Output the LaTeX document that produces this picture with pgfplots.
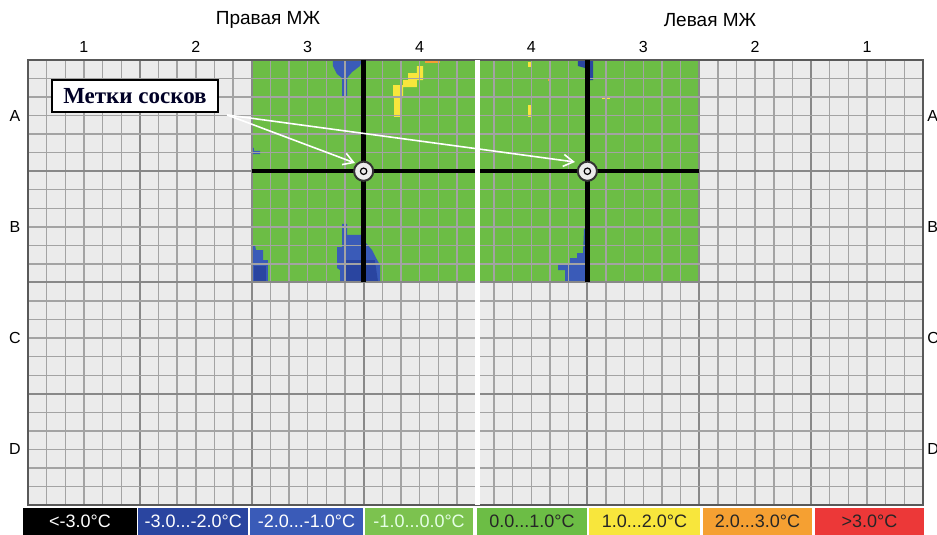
\documentclass[border=0pt]{standalone}
\usepackage{fontspec}
\setmainfont{Liberation Sans}
\newfontfamily\serifb{Liberation Serif}
\usepackage{pgfplots}
\pgfplotsset{compat=1.18}
\usetikzlibrary{arrows.meta}
\definecolor{bggrey}{HTML}{EBEBEB}
\definecolor{minorg}{HTML}{A3A3A3}
\definecolor{majorg}{HTML}{888888}
\definecolor{hgreen}{HTML}{6CBD45}
\definecolor{lgreen}{HTML}{7CC24F}
\definecolor{blueA}{HTML}{2A45A0}
\definecolor{blueB}{HTML}{3A5BB8}
\definecolor{yel}{HTML}{F8E63C}
\definecolor{ora}{HTML}{F5A032}
\definecolor{redc}{HTML}{EC3838}
\begin{document}
\begin{tikzpicture}
\begin{axis}[
  set layers,
  scale only axis, width=447.5pt, height=222.5pt,
  xmin=0, xmax=8, ymin=0, ymax=4, y dir=reverse,
  xtick={0,1,...,8}, ytick={0,1,...,4},
  minor x tick num=5, minor y tick num=5,
  xticklabels={}, yticklabels={},
  tick label style={text opacity=0},
  major tick length=0pt, minor tick length=0pt,
  grid=both,
  major grid style={draw=majorg, line width=1pt},
  minor grid style={draw=minorg, line width=0.7pt},
  axis line style={draw=black!65, line width=0.9pt},
  clip=false,
]
% background and heat map
\addplot[on layer=axis background, fill=bggrey, draw=none] coordinates {(0,0) (8,0) (8,4) (0,4)} -- cycle;
\addplot[on layer=axis background, fill=hgreen, draw=none] coordinates {(2,0) (6,0) (6,2) (2,2)} -- cycle;
% right breast, top blue
\addplot[on layer=axis background, fill=blueB, draw=none] coordinates {(2.726,0) (2.986,0) (2.968,0.054) (2.897,0.108) (2.852,0.162) (2.852,0.342) (2.807,0.342) (2.807,0.162) (2.762,0.126) (2.726,0.054)} -- cycle;
% right breast, yellow
\addplot[on layer=axis background, fill=yel, draw=none] coordinates {(3.477,0.054) (3.531,0.054) (3.531,0.180) (3.477,0.180) (3.477,0.243) (3.352,0.243) (3.352,0.342) (3.325,0.342) (3.325,0.512) (3.272,0.512) (3.272,0.342) (3.263,0.342) (3.263,0.225) (3.352,0.225) (3.352,0.180) (3.397,0.180) (3.397,0.117) (3.477,0.117)} -- cycle;
\addplot[on layer=axis background, fill=ora, draw=none] coordinates {(3.55,0) (3.68,0) (3.68,0.025) (3.55,0.025)} -- cycle;
% right breast, left edge blue
\addplot[on layer=axis background, fill=blueB, draw=none] coordinates {(2,0.791) (2.020,0.791) (2.020,0.818) (2.074,0.818) (2.074,0.845) (2,0.845)} -- cycle;
\addplot[on layer=axis background, fill=blueB, draw=none] coordinates {(2,1.663) (2.029,1.663) (2.038,1.708) (2.101,1.708) (2.101,1.798) (2.145,1.798) (2.145,2) (2,2)} -- cycle;
\addplot[on layer=axis background, fill=blueA, draw=none] coordinates {(2.02,1.85) (2.13,1.85) (2.13,2) (2.02,2)} -- cycle;
% right breast, bottom blue near nipple line
\addplot[on layer=axis background, fill=blueB, draw=none] coordinates {(2.807,1.474) (2.852,1.474) (2.852,1.573) (2.986,1.573) (3.021,1.645) (3.075,1.708) (3.111,1.780) (3.147,1.843) (3.147,2) (2.789,2) (2.789,1.888) (2.762,1.870) (2.762,1.681) (2.807,1.681)} -- cycle;
\addplot[on layer=axis background, fill=blueA, draw=none] coordinates {(2.83,1.80) (3.10,1.80) (3.13,2) (2.83,2)} -- cycle;
% left breast, top blue
\addplot[on layer=axis background, fill=blueA, draw=none] coordinates {(4.916,0) (5.051,0) (5.051,0.180) (5.024,0.180) (5.006,0.315) (4.979,0.315) (4.979,0.072) (4.916,0.054)} -- cycle;
% left breast, bottom blue
\addplot[on layer=axis background, fill=blueB, draw=none] coordinates {(4.970,1.519) (5.006,1.519) (5.024,2) (4.800,2) (4.800,1.888) (4.738,1.888) (4.738,1.825) (4.845,1.825) (4.845,1.780) (4.908,1.780) (4.908,1.735) (4.961,1.735)} -- cycle;
% left breast, small warm spots
\addplot[on layer=axis background, fill=yel, draw=none] coordinates {(4.470,0.018) (4.505,0.018) (4.505,0.063) (4.470,0.063)} -- cycle;
\addplot[on layer=axis background, fill=yel, draw=none] coordinates {(4.470,0.405) (4.505,0.405) (4.505,0.512) (4.470,0.512)} -- cycle;
\addplot[on layer=axis background, fill=yel, draw=none] coordinates {(5.131,0.324) (5.202,0.324) (5.202,0.351) (5.131,0.351)} -- cycle;
\addplot[on layer=axis background, fill=ora, draw=none] coordinates {(4.648,0.162) (4.666,0.162) (4.666,0.189) (4.648,0.189)} -- cycle;
% nipple cross lines
\addplot[black, line width=2.2pt] coordinates {(2,1) (6,1)};
\addplot[black, line width=2.2pt] coordinates {(3,0) (3,2)};
\addplot[black, line width=2.2pt] coordinates {(5,0) (5,2)};
% midline
\addplot[white, line width=2.5pt] coordinates {(4.02,0) (4.02,4)};
% arrows
\draw[white, line width=0.8pt, -{Straight Barb[length=5pt,width=6pt]}] (axis cs:1.78,0.494) -- (axis cs:2.923,0.926);
\draw[white, line width=0.8pt, -{Straight Barb[length=5pt,width=6pt]}] (axis cs:1.78,0.494) -- (axis cs:4.889,0.917);
% nipple marks
\addplot[only marks, mark=*, mark size=4.8pt, mark options={fill=gray!15, draw=black!80, line width=1pt}] coordinates {(3,1) (5,1)};
\addplot[only marks, mark=o, mark size=1.6pt, mark options={draw=black, line width=0.6pt}] coordinates {(3,1) (5,1)};
% label box
\node[draw=black, line width=0.9pt, fill=white, minimum width=83pt, minimum height=16pt, inner sep=0pt,
      font=\serifb\bfseries\fontsize{11.5}{12}\selectfont, text=black!85!blue] at (axis cs:0.956,0.324) {Метки сосков};
% column labels
\node[font=\fontsize{8}{9}\selectfont] at (axis cs:0.5,-0.117) {1};
\node[font=\fontsize{8}{9}\selectfont] at (axis cs:1.5,-0.117) {2};
\node[font=\fontsize{8}{9}\selectfont] at (axis cs:2.5,-0.117) {3};
\node[font=\fontsize{8}{9}\selectfont] at (axis cs:3.5,-0.117) {4};
\node[font=\fontsize{8}{9}\selectfont] at (axis cs:4.5,-0.117) {4};
\node[font=\fontsize{8}{9}\selectfont] at (axis cs:5.5,-0.117) {3};
\node[font=\fontsize{8}{9}\selectfont] at (axis cs:6.5,-0.117) {2};
\node[font=\fontsize{8}{9}\selectfont] at (axis cs:7.5,-0.117) {1};
\node[font=\fontsize{9.5}{11}\selectfont] at (axis cs:2.145,-0.36) {Правая МЖ};
\node[font=\fontsize{9.5}{11}\selectfont] at (axis cs:6.096,-0.36) {Левая МЖ};
% row labels
\node[font=\fontsize{8}{9}\selectfont] at (axis cs:-0.116,0.5) {A};
\node[font=\fontsize{8}{9}\selectfont] at (axis cs:-0.116,1.5) {B};
\node[font=\fontsize{8}{9}\selectfont] at (axis cs:-0.116,2.5) {C};
\node[font=\fontsize{8}{9}\selectfont] at (axis cs:-0.116,3.5) {D};
\node[anchor=west, inner sep=0pt, font=\fontsize{8}{9}\selectfont] at (axis cs:8.036,0.5) {A};
\node[anchor=west, inner sep=0pt, font=\fontsize{8}{9}\selectfont] at (axis cs:8.036,1.5) {B};
\node[anchor=west, inner sep=0pt, font=\fontsize{8}{9}\selectfont] at (axis cs:8.036,2.5) {C};
\node[anchor=west, inner sep=0pt, font=\fontsize{8}{9}\selectfont] at (axis cs:8.036,3.5) {D};
% colour scale
\fill[black] (axis cs:-0.045,4.027) rectangle (axis cs:0.975,4.32);
\fill[blueA] (axis cs:0.985,4.027) rectangle (axis cs:1.967,4.32);
\fill[blueB] (axis cs:1.985,4.027) rectangle (axis cs:2.994,4.32);
\fill[lgreen] (axis cs:3.012,4.027) rectangle (axis cs:3.98,4.32);
\fill[hgreen] (axis cs:4.013,4.027) rectangle (axis cs:4.997,4.32);
\fill[yel] (axis cs:5.015,4.027) rectangle (axis cs:6.007,4.32);
\fill[ora] (axis cs:6.034,4.027) rectangle (axis cs:7.008,4.32);
\fill[redc] (axis cs:7.035,4.027) rectangle (axis cs:8.009,4.32);
\node[text=white, font=\fontsize{9}{10}\selectfont] at (axis cs:0.465,4.144) {<-3.0°C};
\node[text=white, font=\fontsize{9}{10}\selectfont] at (axis cs:1.476,4.144) {-3.0...-2.0°C};
\node[text=white, font=\fontsize{9}{10}\selectfont] at (axis cs:2.49,4.144) {-2.0...-1.0°C};
\node[text=white!90!green, font=\fontsize{9}{10}\selectfont] at (axis cs:3.496,4.144) {-1.0...0.0°C};
\node[text=black!85, font=\fontsize{9}{10}\selectfont] at (axis cs:4.505,4.144) {0.0...1.0°C};
\node[text=black!85, font=\fontsize{9}{10}\selectfont] at (axis cs:5.511,4.144) {1.0...2.0°C};
\node[text=black!85, font=\fontsize{9}{10}\selectfont] at (axis cs:6.521,4.144) {2.0...3.0°C};
\node[text=black!85, font=\fontsize{9}{10}\selectfont] at (axis cs:7.522,4.144) {>3.0°C};
% page frame
\coordinate (bl) at (axis cs:-0.2503,4.2697);
\coordinate (tr) at (axis cs:8.1251,-0.5393);
\end{axis}
\pgfresetboundingbox
\path[use as bounding box] (bl) rectangle (tr);
\end{tikzpicture}
\end{document}
